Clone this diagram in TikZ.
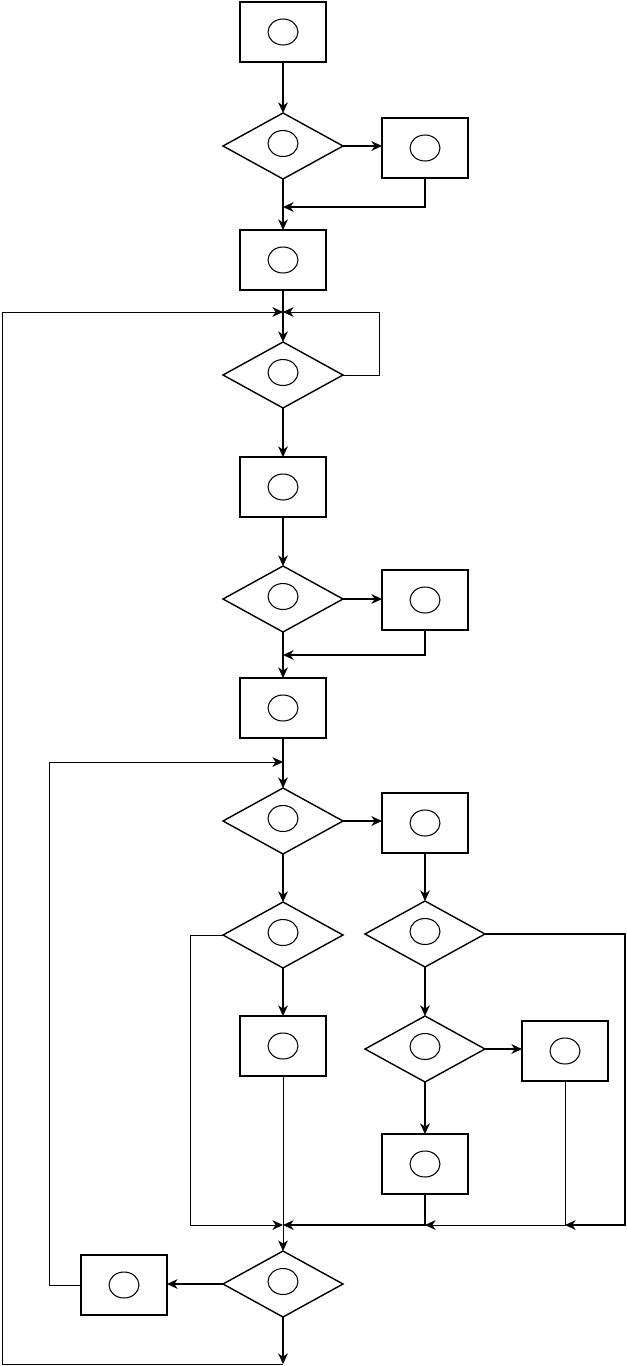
\documentclass[tikz,border=0pt]{standalone}
\usetikzlibrary{shapes.geometric,arrows.meta}

\begin{document}
\begin{tikzpicture}[x=0.02cm,y=-0.02cm]
    % Stili per i blocchi del diagramma
    \tikzset{
        flow_block/.style={
            draw=black, % Bordo visibile
            line width=0.9pt,
            minimum width=1.72cm, % Larghezza del blocco
            minimum height=1.2cm, % Altezza del blocco
            inner sep=0pt,
            outer sep=0pt,
            path picture={\draw[line width=0.6pt] (path picture bounding box.center) ellipse (0.3cm and 0.26cm);}
        },
        flow_decision/.style={
            diamond,
            draw=black, % Bordo visibile
            line width=0.8pt,
            minimum width=2.4cm, % Larghezza del rombo
            minimum height=1.32cm, % Altezza del rombo
            inner sep=0pt,
            outer sep=0pt,
            path picture={\draw[line width=0.6pt] ([yshift=0.05cm]path picture bounding box.center) ellipse (0.3cm and 0.26cm);}
        },
        flow_arrow/.style={
            -{Stealth[length=6pt,width=5.5pt,inset=1.8pt]},
            line width=0.9pt
        },
        thin_arrow/.style={
            -{Stealth[length=6pt,width=5.5pt,inset=1.8pt]},
            line width=0.5pt
        }
    }

    \useasboundingbox (0,0) rectangle (626,1366);

    % Colonna principale
    \node[flow_block] (block1) at (283,32) {};
    \node[flow_decision] (decision1) at (283,146) {};
    \node[flow_block] (block2) at (425,148) {};
    \node[flow_block] (block3) at (283,260) {};
    \node[flow_decision] (decision2) at (283,375) {};
    \node[flow_block] (block4) at (283,487) {};
    \node[flow_decision] (decision3) at (283,599) {};
    \node[flow_block] (block5) at (425,600) {};
    \node[flow_block] (block6) at (283,708) {};
    \node[flow_decision] (decision4) at (283,821) {};
    \node[flow_block] (block7) at (425,823) {};

    % Rami inferiori
    \node[flow_decision] (decision5) at (283,935) {};
    \node[flow_decision] (decision6) at (425,934) {};
    \node[flow_block] (block8) at (283,1046) {};
    \node[flow_decision] (decision7) at (425,1049) {};
    \node[flow_block] (block9) at (565,1051) {};
    \node[flow_block] (block10) at (425,1164) {};
    \node[flow_decision] (decision8) at (283,1284) {};
    \node[flow_block] (block11) at (124,1285) {};

    % Punti di giunzione
    \coordinate (join1) at (283,207);
    \coordinate (join2) at (283,312);
    \coordinate (join3) at (283,655);
    \coordinate (join4) at (283,762);
    \coordinate (join5) at (283,1225);
    \coordinate (join6) at (425,1225);
    \coordinate (join7) at (565,1225);
    \coordinate (exit) at (283,1364);
    \coordinate (d2_out) at (379,375);
    \coordinate (d5_out) at (190,935);
    \coordinate (d6_out) at (625,934);
    \coordinate (b11_out) at (49,1285);
    \coordinate (loop_out) at (2,1364);

    % Frecce della colonna principale
    \draw[flow_arrow] (block1) -- (decision1);
    \draw[flow_arrow] (decision1.east) -- (decision1.east -| block2.west);
    \draw[flow_arrow] (block2.south) |- (join1);
    \draw[flow_arrow] (decision1) -- (block3);
    \draw[flow_arrow] (block3) -- (decision2);
    \draw[thin_arrow] (decision2.east) -- (d2_out) |- (join2);
    \draw[flow_arrow] (decision2) -- (block4);
    \draw[flow_arrow] (block4) -- (decision3);
    \draw[flow_arrow] (decision3.east) -- (decision3.east -| block5.west);
    \draw[flow_arrow] (block5.south) |- (join3);
    \draw[flow_arrow] (decision3) -- (block6);
    \draw[flow_arrow] (block6) -- (decision4);
    \draw[flow_arrow] (decision4.east) -- (decision4.east -| block7.west);
    \draw[flow_arrow] (decision4) -- (decision5);
    \draw[flow_arrow] (block7) -- (decision6);

    % Frecce dei rami inferiori
    \draw[flow_arrow] (decision5) -- (block8);
    \draw[thin_arrow] (block8) -- (decision8);
    \draw[thin_arrow] (decision5.west) -- (d5_out) |- (join5);
    \draw[flow_arrow] (decision6) -- (decision7);
    \draw[flow_arrow] (decision6.east) -- (d6_out) |- (join7);
    \draw[flow_arrow] (decision7.east) -- (decision7.east -| block9.west);
    \draw[flow_arrow] (decision7) -- (block10);
    \draw[thin_arrow] (block9.south) |- (join6);
    \draw[flow_arrow] (block10.south) |- (join5);

    % Anelli di ritorno
    \draw[flow_arrow] (decision8.west) -- (decision8.west -| block11.east);
    \draw[thin_arrow] (block11.west) -- (b11_out) |- (join4);
    \draw[flow_arrow] (decision8) -- (exit);
    \draw[thin_arrow] (exit) -- (loop_out) |- (join2);

\end{tikzpicture}
\end{document}
